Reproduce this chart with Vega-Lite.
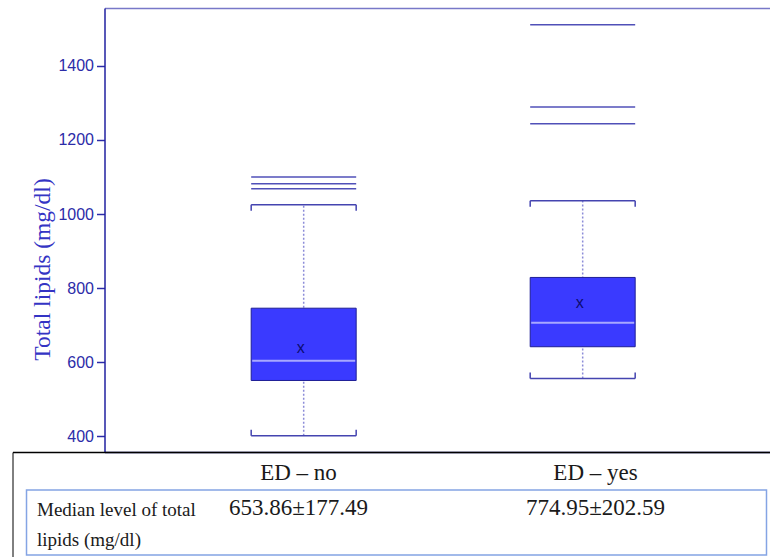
{
  "$schema": "https://vega.github.io/schema/vega-lite/v6.json",
  "padding": {"left": 12.5, "top": 8, "right": 0, "bottom": 0},
  "background": "white",
  "config": {"view": {"stroke": null}, "axis": {"grid": false}},
  "datasets": {
    "stats": [
      {"group": "ED – no", "lower": 402, "q1": 551, "median": 604, "q3": 746, "upper": 1025, "mean": 635},
      {"group": "ED – yes", "lower": 556, "q1": 642, "median": 707, "q3": 829, "upper": 1036, "mean": 758}
    ],
    "outliers": [
      {"group": "ED – no", "value": 1068},
      {"group": "ED – no", "value": 1082},
      {"group": "ED – no", "value": 1100},
      {"group": "ED – yes", "value": 1244},
      {"group": "ED – yes", "value": 1289},
      {"group": "ED – yes", "value": 1511}
    ],
    "table": [
      {"group": "ED – no", "row": "header", "text": "ED – no"},
      {"group": "ED – yes", "row": "header", "text": "ED – yes"},
      {"group": "ED – no", "row": "values", "text": "653.86±177.49"},
      {"group": "ED – yes", "row": "values", "text": "774.95±202.59"}
    ],
    "frame": [{"part": "values"}]
  },
  "concat": [
    {
      "width": 665,
      "height": 444,
      "data": {"name": "stats"},
      "layer": [
        {
          "mark": {"type": "rule", "color": "#8c8cd8", "strokeDash": [2, 2], "strokeWidth": 1.5},
          "encoding": {
            "x": {"field": "group", "type": "nominal",
              "scale": {"type": "band", "domain": ["ED – no", "ED – yes"], "paddingInner": 0.6237, "paddingOuter": 0.5036, "align": 0.522},
              "axis": {"orient": "bottom", "labels": false, "ticks": false, "title": null, "domainColor": "#14147a", "domainWidth": 1.5}},
            "y": {"field": "lower", "type": "quantitative",
              "scale": {"domain": [358, 1556], "nice": false, "zero": false},
              "axis": {"values": [400, 600, 800, 1000, 1200, 1400], "format": "d", "title": "Total lipids (mg/dl)",
                "titleFont": "Liberation Serif", "titleFontSize": 23.5, "titleFontWeight": "normal", "titleColor": "#3434c4",
                "titleY": 261, "titlePadding": 3,
                "labelFont": "Liberation Sans", "labelFontSize": 16, "labelColor": "#2c2ca8", "labelPadding": 3,
                "tickSize": 8, "tickColor": "#2c2ca8", "tickWidth": 1.5, "domainColor": "#2020a0", "domainWidth": 1.5, "grid": false}},
            "y2": {"field": "upper"}
          }
        },
        {
          "mark": {"type": "bar", "fill": "#3a3aff", "stroke": "#1e1e96", "strokeWidth": 1},
          "encoding": {
            "x": {"field": "group", "type": "nominal",
              "axis": {"orient": "top", "labels": false, "ticks": false, "title": null, "domainColor": "#7878c8", "domainWidth": 1.5}},
            "y": {"field": "q1", "type": "quantitative"},
            "y2": {"field": "q3"}
          }
        },
        {
          "mark": {"type": "tick", "color": "#a8a8ff", "size": 103, "thickness": 2, "opacity": 1},
          "encoding": {
            "x": {"field": "group", "type": "nominal", "axis": null},
            "y": {"field": "median", "type": "quantitative"}
          }
        },
        {
          "mark": {"type": "tick", "color": "#4444b0", "size": 105, "thickness": 1.5, "opacity": 1},
          "encoding": {
            "x": {"field": "group", "type": "nominal", "axis": null},
            "y": {"field": "upper", "type": "quantitative"}
          }
        },
        {
          "mark": {"type": "tick", "color": "#4444b0", "size": 105, "thickness": 1.5, "opacity": 1},
          "encoding": {
            "x": {"field": "group", "type": "nominal", "axis": null},
            "y": {"field": "lower", "type": "quantitative"}
          }
        },
        {
          "mark": {"type": "tick", "orient": "vertical", "color": "#4444b0", "size": 6, "thickness": 1.5, "opacity": 1, "yOffset": 3},
          "encoding": {
            "x": {"field": "group", "type": "nominal", "bandPosition": 0, "axis": null},
            "y": {"field": "upper", "type": "quantitative"}
          }
        },
        {
          "mark": {"type": "tick", "orient": "vertical", "color": "#4444b0", "size": 6, "thickness": 1.5, "opacity": 1, "yOffset": 3},
          "encoding": {
            "x": {"field": "group", "type": "nominal", "bandPosition": 1, "axis": null},
            "y": {"field": "upper", "type": "quantitative"}
          }
        },
        {
          "mark": {"type": "tick", "orient": "vertical", "color": "#4444b0", "size": 6, "thickness": 1.5, "opacity": 1, "yOffset": -3},
          "encoding": {
            "x": {"field": "group", "type": "nominal", "bandPosition": 0, "axis": null},
            "y": {"field": "lower", "type": "quantitative"}
          }
        },
        {
          "mark": {"type": "tick", "orient": "vertical", "color": "#4444b0", "size": 6, "thickness": 1.5, "opacity": 1, "yOffset": -3},
          "encoding": {
            "x": {"field": "group", "type": "nominal", "bandPosition": 1, "axis": null},
            "y": {"field": "lower", "type": "quantitative"}
          }
        },
        {
          "data": {"name": "outliers"},
          "mark": {"type": "tick", "color": "#5050b8", "size": 105, "thickness": 1.5, "opacity": 1},
          "encoding": {
            "x": {"field": "group", "type": "nominal", "axis": null},
            "y": {"field": "value", "type": "quantitative"}
          }
        },
        {
          "mark": {"type": "text", "text": "x", "font": "Liberation Sans", "fontSize": 16, "color": "#0c0c70", "baseline": "alphabetic", "align": "center", "dx": -3, "dy": 4},
          "encoding": {
            "x": {"field": "group", "type": "nominal", "axis": null},
            "y": {"field": "mean", "type": "quantitative"}
          }
        }
      ],
      "resolve": {"axis": {"x": "independent"}}
    },
    {
      "width": 665,
      "height": 105,
      "layer": [
        {
          "data": {"name": "frame"},
          "mark": {"type": "rect", "fill": "transparent", "stroke": "#84a4e4", "strokeWidth": 1.5},
          "encoding": {
            "x": {"field": "part", "type": "nominal", "scale": {"type": "band", "range": [-92, 665], "paddingInner": 0, "paddingOuter": 0.0115, "align": 0.8235}, "axis": null},
            "y": {"field": "part", "type": "nominal", "scale": {"type": "band", "paddingInner": 0, "paddingOuter": 0.3077, "align": 0.95}, "axis": null}
          }
        },
        {
          "data": {"name": "table"},
          "mark": {"type": "text", "font": "Liberation Serif", "fontSize": 23, "color": "#1a1a1a", "align": "center", "baseline": "alphabetic"},
          "encoding": {
            "x": {"field": "group", "type": "nominal",
              "scale": {"type": "point", "domain": ["ED – no", "ED – yes"], "range": [-92, 665], "padding": 0.7744, "align": 0.6217},
              "axis": {"orient": "top", "labels": false, "ticks": false, "title": null, "domainColor": "#000000", "domainWidth": 1.5}},
            "y": {"field": "row", "type": "nominal",
              "scale": {"type": "point", "domain": ["header", "values"], "padding": 1.09, "align": 0.403},
              "axis": {"orient": "left", "offset": 92, "title": null, "ticks": false, "tickSize": 0, "labelPadding": -24, "labelAlign": "left",
                "labelBaseline": "alphabetic", "labelOffset": 0, "labelFont": "Liberation Serif", "labelFontSize": 19,
                "labelColor": "#1a1a1a", "labelLineHeight": 30, "labelLimit": 0, "domainColor": "#000000", "domainWidth": 1,
                "labelExpr": "datum.value === 'values' ? ['Median level of total', 'lipids (mg/dl)'] : ''"}},
            "text": {"field": "text"}
          }
        }
      ],
      "resolve": {"scale": {"x": "independent", "y": "independent"}}
    }
  ],
  "columns": 1,
  "spacing": 0,
  "align": "none"
}
